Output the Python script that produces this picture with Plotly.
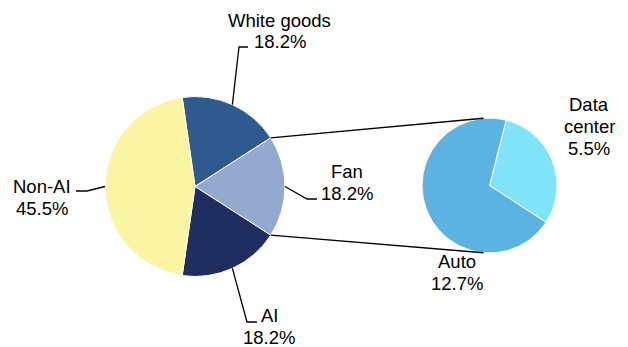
import math
import plotly.graph_objects as go

# ---- data ----
main_labels = ["White goods", "Fan", "AI", "Non-AI"]
main_values = [18.2, 18.2, 18.2, 45.5]
sub_labels = ["Data center", "Auto"]
sub_values = [5.5, 12.7]
exploded = "Fan"

# ---- style / layout ----
main_colors = ["#2E5A8E", "#94A9D0", "#1F2D5F", "#F9F5A2"]
sub_colors = ["#80E3F8", "#5DB3DF"]
OFF = 8                      # browser body margin
W, H = 628 - OFF, 347 - OFF  # figure fits in the window
MAIN_C, MAIN_R = (195.0, 186.5), 90.0   # screen px
SUB_C, SUB_R = (489.5, 185.5), 67.5
SUB_ROT = 14.3
LINE_GAP = 22
FONT = dict(family="Liberation Sans, Arial, sans-serif", size=18.5, color="#000000")


def P(x, y):
    return (x - OFF) / W, 1 - (y - OFF) / H


def domain(c, r):
    x0, y1 = P(c[0] - r, c[1] - r)
    x1, y0 = P(c[0] + r, c[1] + r)
    return dict(x=[x0, x1], y=[y0, y1])


def slice_angles(values, rot):
    tot = sum(values)
    a, out = rot, []
    for v in values:
        b = a + v / tot * 360
        out.append((a, b))
        a = b
    return out


def edge(c, r, ang):
    t = math.radians(ang)
    return c[0] + r * math.sin(t), c[1] - r * math.cos(t)


total = sum(main_values)
k = main_labels.index(exploded)
main_rot = 90 - (sum(main_values[:k]) + main_values[k] / 2) / total * 360
main_ang = slice_angles(main_values, main_rot)

fig = go.Figure()
fig.add_trace(go.Pie(labels=main_labels, values=main_values, sort=False,
                     direction="clockwise", rotation=main_rot,
                     marker=dict(colors=main_colors, line=dict(color="white", width=1)),
                     textinfo="none", hoverinfo="label+value",
                     domain=domain(MAIN_C, MAIN_R), showlegend=False))
fig.add_trace(go.Pie(labels=sub_labels, values=sub_values, sort=False,
                     direction="clockwise", rotation=SUB_ROT,
                     marker=dict(colors=sub_colors, line=dict(color="white", width=1)),
                     textinfo="none", hoverinfo="label+value",
                     domain=domain(SUB_C, SUB_R), showlegend=False))

shapes = []


def polyline(pts, width=1.3):
    path = "M " + " L ".join(f"{P(x, y)[0]:.5f},{P(x, y)[1]:.5f}" for x, y in pts)
    shapes.append(dict(type="path", path=path, xref="paper", yref="paper",
                       line=dict(color="#000000", width=width), layer="above"))


annotations = []


def label(lines, x, y):
    n = len(lines)
    for i, t in enumerate(lines):
        yy = y + (i - (n - 1) / 2) * LINE_GAP
        px, py = P(x, yy)
        annotations.append(dict(text=t, x=px, y=py, xref="paper", yref="paper",
                                xanchor="center", yanchor="middle", showarrow=False,
                                align="center", font=FONT))


# connector lines between the exploded slice and the secondary pie
fan_a0, fan_a1 = main_ang[k]
polyline([edge(MAIN_C, MAIN_R, fan_a0), edge(SUB_C, SUB_R, -5)], 1.4)
polyline([edge(MAIN_C, MAIN_R, fan_a1), edge(SUB_C, SUB_R, 185)], 1.4)

# main pie labels with leader lines
mid = {lab: (a + b) / 2 for lab, (a, b) in zip(main_labels, main_ang)}
val = dict(zip(main_labels, main_values))

polyline([edge(MAIN_C, MAIN_R, mid["White goods"]), (239, 47), (248, 47)])
label(["White goods", f"{val['White goods']:.1f}%"], 279.5, 31)

polyline([edge(MAIN_C, MAIN_R, mid["Fan"]), (307, 199), (317, 199)])
label(["Fan", f"{val['Fan']:.1f}%"], 347, 182)

polyline([edge(MAIN_C, MAIN_R, mid["AI"]), (247, 322), (257, 322)])
label(["AI", f"{val['AI']:.1f}%"], 269, 326)

polyline([edge(MAIN_C, MAIN_R, mid["Non-AI"]), (87, 191), (76, 191)])
label(["Non-AI", f"{val['Non-AI']:.1f}%"], 42, 197)

# secondary pie labels
sval = dict(zip(sub_labels, sub_values))
label(["Data", "center", f"{sval['Data center']:.1f}%"], 589, 126)
label(["Auto", f"{sval['Auto']:.1f}%"], 457, 272)

fig.update_layout(width=W, height=H, margin=dict(l=0, r=0, t=0, b=0),
                  paper_bgcolor="white", plot_bgcolor="white",
                  shapes=shapes, annotations=annotations, font=FONT)
fig.write_html("out.html")
